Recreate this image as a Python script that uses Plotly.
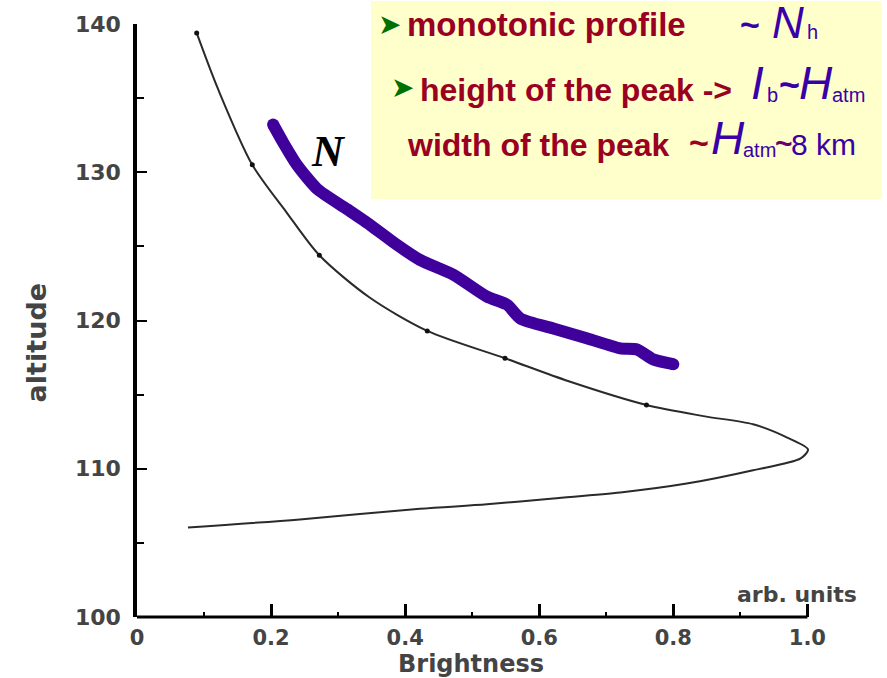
import plotly.graph_objects as go

# ---------------- data ----------------
# emission profile (black curve), ordered along the curve
brightness_curve = [0.089, 0.121, 0.172, 0.223, 0.272, 0.347, 0.433, 0.549, 0.644, 0.760,
                    0.845, 0.919, 0.970, 1.001, 0.990, 0.919, 0.820, 0.721, 0.621, 0.522,
                    0.422, 0.243, 0.076]
altitude_curve = [139.4, 135.6, 130.5, 127.3, 124.4, 121.55, 119.3, 117.45, 115.9, 114.3,
                  113.55, 113.0, 112.1, 111.3, 110.7, 109.9, 109.0, 108.4, 108.0, 107.6,
                  107.3, 106.58, 106.04]

# small dots on the curve
dot_brightness = [0.089, 0.172, 0.272, 0.433, 0.549, 0.760]
dot_altitude = [139.4, 130.5, 124.4, 119.3, 117.45, 114.3]

# N profile (thick purple line)
n_brightness = [0.203, 0.218, 0.239, 0.269, 0.313, 0.348, 0.388, 0.422, 0.472, 0.522,
                0.552, 0.572, 0.621, 0.672, 0.721, 0.746, 0.770, 0.800]
n_altitude = [133.22, 132.01, 130.47, 128.86, 127.52, 126.44, 125.10, 124.09, 123.09, 121.61,
              121.07, 120.13, 119.46, 118.79, 118.12, 118.05, 117.38, 117.05]

y_tick_vals = [100, 110, 120, 130, 140]
x_tick_vals = [0, 0.2, 0.4, 0.6, 0.8, 1.0]
x_tick_text = ["0", "0.2", "0.4", "0.6", "0.8", "1.0"]
x_minor_vals = [0.1, 0.3, 0.5, 0.7, 0.9]

# ---------------- layout geometry ----------------
W, H = 887, 678
L, T = 137, 21
PW, PH = 724, 596
R = W - L - PW
B = H - T - PH


def px_x(px):
    return (px - L) / PW


def px_y(py):
    return (T + PH - py) / PH


RED = "#9a0022"
BLUE = "#3a00a8"
GREEN = "#007000"
GREY = "#444444"
TICKFONT = "DejaVu Sans"
PURPLE = "#40009c"

fig = go.Figure()

fig.add_trace(go.Scatter(
    x=brightness_curve, y=altitude_curve, mode="lines",
    line=dict(color="#2a2a2a", width=2, shape="spline", smoothing=0.8),
    hoverinfo="skip", showlegend=False))

fig.add_trace(go.Scatter(
    x=dot_brightness, y=dot_altitude, mode="markers",
    marker=dict(color="#111111", size=5, symbol="circle"),
    hoverinfo="skip", showlegend=False))

fig.add_trace(go.Scatter(
    x=n_brightness, y=n_altitude, mode="lines",
    line=dict(color=PURPLE, width=12, shape="spline", smoothing=0.6),
    hoverinfo="skip", showlegend=False))

# rounded ends of the thick N stroke
fig.add_trace(go.Scatter(
    x=[n_brightness[0], n_brightness[-1]], y=[n_altitude[0], n_altitude[-1]],
    mode="markers",
    marker=dict(color=PURPLE, size=12, opacity=1, line=dict(width=0)),
    hoverinfo="skip", showlegend=False))

shapes = [
    # yellow text box
    dict(type="rect", xref="paper", yref="paper",
         x0=px_x(371), x1=px_x(882), y0=px_y(197), y1=px_y(-2),
         fillcolor="#ffffcc", line=dict(width=0), layer="below"),
    # x axis line (ends at 1.0)
    dict(type="line", xref="x", yref="paper", x0=0, x1=1.0, y0=0, y1=0,
         line=dict(color="black", width=3), layer="above"),
]

ann = []


def add(text, px, py, size, color, family="Liberation Sans", xanchor="left",
        yanchor="middle", angle=0):
    ann.append(dict(text=text, x=px_x(px), y=px_y(py), xref="paper", yref="paper",
                    xanchor=xanchor, yanchor=yanchor, showarrow=False, textangle=angle,
                    font=dict(size=size, color=color, family=family)))


# axis titles
add("<b>altitude</b>", 36, 342, 27, GREY, family=TICKFONT, xanchor="center", angle=-90)
add("<b>Brightness</b>", 471, 664, 24, GREY, family=TICKFONT, xanchor="center")
add("<b>arb. units</b>", 797, 594, 22, GREY, family=TICKFONT, xanchor="center")

# N label
add("<b><i>N</i></b>", 328, 149, 44, "black", family="Liberation Serif", xanchor="center")

# text box, line 1
add("➤", 376, 21, 28, GREEN, family="DejaVu Sans")
add("<b>monotonic profile</b>", 405, 22, 33, RED)
add("<b>~</b>", 738, 21, 34, BLUE)
add("<i>N</i>", 770, 19, 44, BLUE)
add("h", 805, 29, 20, BLUE)

# line 2
add("➤", 389, 85, 28, GREEN, family="DejaVu Sans")
add("<b>height of the peak -&gt;</b>", 418, 87, 32, RED)
add("<i>I</i>", 749, 80, 46, BLUE)
add("b", 765, 92, 20, BLUE)
add("<b>~</b>", 777, 82, 36, BLUE)
add("<i>H</i>", 797, 80, 46, BLUE)
add("atm", 830, 92, 20, BLUE)

# line 3
add("<b>width of the peak</b>", 405, 143, 32, RED)
add("<b>~</b>", 687, 140, 34, RED)
add("<i>H</i>", 709, 136, 46, BLUE)
add("atm", 741, 148, 20, BLUE)
add("<b>~</b>", 773, 141, 30, "#6a0070")
add("8 km", 789, 142, 30, BLUE)

fig.update_layout(
    width=W, height=H,
    margin=dict(l=L, r=R, t=T, b=B, pad=0),
    paper_bgcolor="white", plot_bgcolor="white",
    shapes=shapes, annotations=ann,
    showlegend=False,
    xaxis=dict(range=[0, 1.08], showgrid=False, zeroline=False, showline=False,
               tickmode="array", tickvals=x_tick_vals, ticktext=x_tick_text,
               ticks="inside", ticklen=13, tickwidth=2.5, tickcolor="black",
               tickfont=dict(family=TICKFONT, size=21, color=GREY, weight="bold"),
               ticklabelstandoff=6,
               minor=dict(tickmode="array", tickvals=x_minor_vals, ticks="inside",
                          ticklen=5, tickwidth=2, tickcolor="black", showgrid=False)),
    yaxis=dict(range=[100, 140], showgrid=False, zeroline=False, showline=True,
               linecolor="black", linewidth=3.5,
               tickmode="array", tickvals=y_tick_vals,
               ticks="inside", ticklen=10, tickwidth=2, tickcolor="black",
               tickfont=dict(family=TICKFONT, size=22, color=GREY, weight="bold"),
               ticklabelstandoff=8,
               minor=dict(dtick=5, ticks="inside", ticklen=7, tickwidth=1.5,
                          tickcolor="black", showgrid=False)),
)

fig.write_html("out.html")
